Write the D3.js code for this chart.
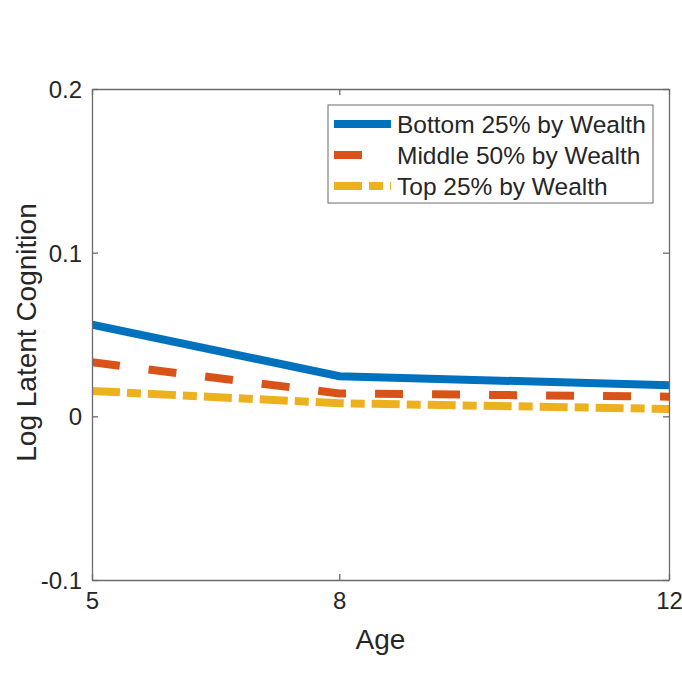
<!DOCTYPE html>
<html>
<head>
<meta charset="utf-8">
<script src="https://d3js.org/d3.v7.min.js"></script>
<style>
  body { margin: 0; background: #fff; }
  text { font-family: "Liberation Sans", Arial, sans-serif; fill: #262626; }
</style>
</head>
<body>
<div id="chart"></div>
<script>
// Chart size
const width = 682;
const height = 675;
const margin = { top: 89, right: 13, bottom: 95, left: 92 };

// Data
const ages = [5, 8, 12];
const bottom25 = [0.056, 0.0245, 0.019];
const middle50 = [0.033, 0.014, 0.012];
const top25 = [0.0155, 0.008, 0.0045];
const seriesNames = ['Bottom 25% by Wealth', 'Middle 50% by Wealth', 'Top 25% by Wealth'];
const xTicks = [5, 8, 12];
const yTicks = [-0.1, 0, 0.1, 0.2];

const series = [
    { name: seriesNames[0], values: bottom25, color: '#0072BD', dash: null },
    { name: seriesNames[1], values: middle50, color: '#D95319', dash: '28,29' },
    { name: seriesNames[2], values: top25, color: '#EDB120', dash: '28,7,14,7' }
];

const svg = d3.select('#chart')
    .append('svg')
    .attr('width', width)
    .attr('height', height);

const innerW = width - margin.left - margin.right;
const innerH = height - margin.top - margin.bottom;

const x = d3.scaleLinear().domain([5, 12]).range([margin.left, margin.left + innerW]);
const y = d3.scaleLinear().domain([-0.1, 0.2]).range([margin.top + innerH, margin.top]);

// Clip so thick lines don't spill outside the box
svg.append('clipPath')
    .attr('id', 'clip')
    .append('rect')
    .attr('x', margin.left)
    .attr('y', margin.top)
    .attr('width', innerW)
    .attr('height', innerH);

const line = d3.line()
    .x((d, i) => x(ages[i]))
    .y(d => y(d));

svg.append('g')
    .attr('clip-path', 'url(#clip)')
    .selectAll('path')
    .data(series)
    .enter()
    .append('path')
    .attr('d', d => line(d.values))
    .attr('fill', 'none')
    .attr('stroke', d => d.color)
    .attr('stroke-width', 8)
    .attr('stroke-dasharray', d => d.dash);

// Axes (MATLAB style: ticks inside, box on)
const tickLen = 6;
const axisColor = '#6b6b6b';

const xAxis = svg.append('g')
    .attr('transform', `translate(0,${margin.top + innerH})`)
    .call(d3.axisBottom(x).tickValues(xTicks).tickSizeInner(-tickLen).tickSizeOuter(0).tickPadding(12)
        .tickFormat(d => String(d)));
const xTop = svg.append('g')
    .attr('transform', `translate(0,${margin.top})`)
    .call(d3.axisTop(x).tickValues(xTicks).tickSizeInner(-tickLen).tickSizeOuter(0).tickFormat(''));
const yAxis = svg.append('g')
    .attr('transform', `translate(${margin.left},0)`)
    .call(d3.axisLeft(y).tickValues(yTicks).tickSizeInner(-tickLen).tickSizeOuter(0).tickPadding(10)
        .tickFormat(d => String(+d.toFixed(1))));
const yRight = svg.append('g')
    .attr('transform', `translate(${margin.left + innerW},0)`)
    .call(d3.axisRight(y).tickValues(yTicks).tickSizeInner(-tickLen).tickSizeOuter(0).tickFormat(''));

[xAxis, xTop, yAxis, yRight].forEach(g => {
    g.selectAll('.domain').attr('stroke', axisColor).attr('stroke-width', 1.3);
    g.selectAll('.tick line').attr('stroke', axisColor).attr('stroke-width', 1.3);
    g.selectAll('.tick text').style('font-size', '24px').attr('fill', '#262626');
});
yAxis.selectAll('.tick text').attr('dy', '0.35em');

// Axis titles
svg.append('text')
    .attr('x', margin.left + innerW / 2)
    .attr('y', 649)
    .attr('text-anchor', 'middle')
    .style('font-size', '28px')
    .text('Age');

svg.append('text')
    .attr('transform', `translate(36,${margin.top + innerH / 2 - 2}) rotate(-90)`)
    .attr('text-anchor', 'middle')
    .style('font-size', '28px')
    .text('Log Latent Cognition');

// Legend
const legend = svg.append('g').attr('transform', 'translate(328,105)');
legend.append('rect')
    .attr('width', 325)
    .attr('height', 98)
    .attr('fill', '#fff')
    .attr('stroke', axisColor)
    .attr('stroke-width', 1);

const rows = legend.selectAll('g.row')
    .data(series)
    .enter()
    .append('g')
    .attr('class', 'row')
    .attr('transform', (d, i) => `translate(0,${19 + i * 31})`);

rows.append('line')
    .attr('x1', 6)
    .attr('x2', 63)
    .attr('stroke', d => d.color)
    .attr('stroke-width', 8)
    .attr('stroke-dasharray', d => d.dash);

rows.append('text')
    .attr('x', 69)
    .attr('dy', '0.35em')
    .style('font-size', '24.5px')
    .text(d => d.name);
</script>
</body>
</html>
